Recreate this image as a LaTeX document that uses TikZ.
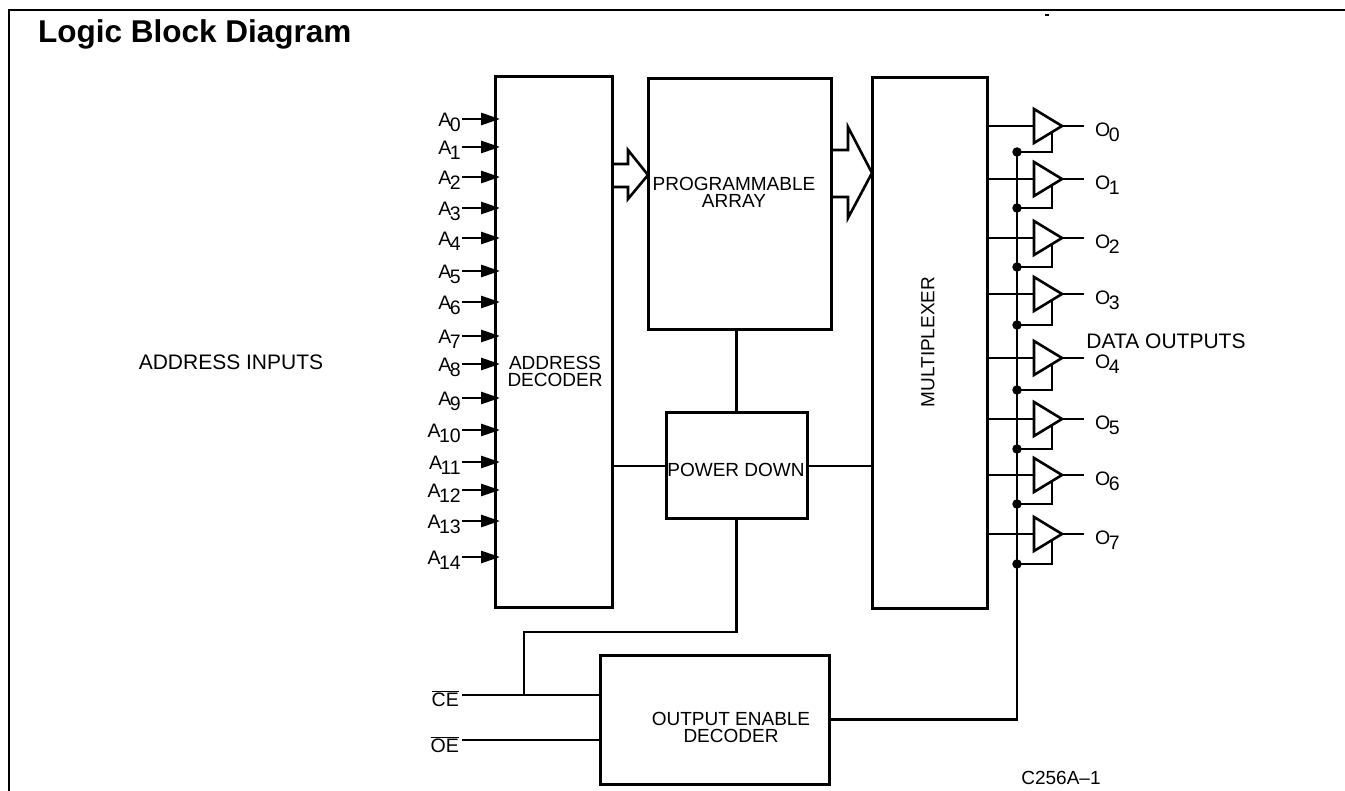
\documentclass[tikz,border=0pt]{standalone}
\usepackage{fontspec}
\setmainfont{Liberation Sans}
\usetikzlibrary{arrows.meta}
\newcommand{\subl}[2]{#1\kern-1.5pt\raisebox{-5pt}{#2}}
\begin{document}
\begin{tikzpicture}[x=1pt,y=-1pt,
  blk/.style={draw, line width=3pt, inner sep=0, outer sep=0},
  wire/.style={line width=2.6pt},
  txt/.style={inner sep=0, font=\fontsize{19}{17}\selectfont, align=center},
  btxt/.style={inner sep=0, font=\fontsize{21}{17}\selectfont, align=center},
  lbl/.style={inner sep=0, font=\fontsize{19.5}{19.5}\selectfont},
  inarr/.style={line width=2.6pt, -{Triangle[length=19pt,width=12pt]}},
  dotc/.style={circle, fill, inner sep=0, minimum size=9.5pt}
]
\useasboundingbox (0,0) rectangle (1345,791);
% frame
\draw[line width=2.4pt] (9,791) -- (9,10) -- (1345,10);
\draw[line width=1.5pt] (1045,15) -- (1049,15);
% title
\node[anchor=base west, inner sep=0, font=\fontsize{31.5}{31.5}\selectfont\bfseries] (title) at (38,43) {Logic Block Diagram};

% blocks
\node[blk, minimum width=117pt, minimum height=530pt] (ad) at (553.5,342) {};
\node[blk, minimum width=183pt, minimum height=251pt] (pa) at (739.5,204.5) {};
\node[blk, minimum width=115pt, minimum height=530pt] (mux) at (929.5,343) {};
\node[blk, minimum width=141pt, minimum height=106pt] (pd) at (736.5,466) {};
\node[blk, minimum width=229pt, minimum height=129pt] (oed) at (714.5,719.5) {};

% block texts
\node[txt] (tad) at (555,371) {ADDRESS\\DECODER};
\node[txt] (tpa) at (734,192) {PROGRAMMABLE\\ARRAY};
\node[txt] (tpd) at (736,470) {POWER DOWN};
\node[txt, rotate=90] (tmux) at (928,342) {MULTIPLEXER};
\node[txt] (toed) at (731,727) {OUTPUT ENABLE\\DECODER};
\node[btxt] (tai) at (231,362) {ADDRESS INPUTS};
\node[btxt] (tdo) at (1166,341) {DATA OUTPUTS};
\node[txt] (tcode) at (1061,778) {C256A–1};

% address inputs
\foreach \i/\y in {0/119,1/147,2/177,3/208,4/238,5/271,6/302,7/336,8/364,9/398,10/430,11/462,12/490,13/521,14/557} {
  \coordinate (in\i) at (462,\y);
  \node[lbl, anchor=east] (la\i) at (461,\y+3) {\subl{A}{\i}};
  \draw[inarr] (in\i) -- ([xshift=5pt]ad.west |- in\i);
}

% wide arrows
\draw[wire, line join=miter] (ad.east |- 0,164) -- (628,164) -- (628,150) -- (pa.west |- 0,175) -- (628,199) -- (628,187) -- (ad.east |- 0,187);
\draw[wire, line join=miter] (pa.east |- 0,150) -- (848,150) -- (848,127) -- (mux.west |- 0,173) -- (848,218) -- (848,197) -- (pa.east |- 0,197);

% power down connections
\draw[wire] (pd.north) -- (pd.north |- pa.south);
\draw[wire] (ad.east |- pd.west) -- (pd.west);
\draw[wire] (pd.east) -- (mux.west |- pd.east);
\coordinate (cejn) at (524,695);
\draw[wire] (pd.south) -- (pd.south |- 0,632) -| (cejn);

% CE / OE
\coordinate (ce) at (462,695);
\coordinate (oe) at (462,740);
\draw[wire] (ce) -- (oed.west |- ce);
\draw[wire] (oe) -- (oed.west |- oe);
\node[lbl, anchor=east] (lce) at (459,699) {$\overline{\mbox{CE}}$};
\node[lbl, anchor=east] (loe) at (459,745) {$\overline{\mbox{OE}}$};

% output buffers
\foreach \i/\c/\d in {0/126/152,1/179/208,2/238/267,3/294/325,4/358/390,5/419/449,6/475/504,7/534/564} {
  \coordinate (b\i) at (1034,\c);
  \draw[wire] (mux.east |- b\i) -- (b\i);
  \draw[wire, line join=miter] (b\i) ++(0,-17) -- ++(0,34) -- ++(28,-17) -- cycle;
  \draw[wire] ([xshift=28pt]b\i) -- ++(22,0);
  \node[lbl, anchor=west] (o\i) at (1095,\c+6) {\subl{O}{\i}};
  \node[dotc] (d\i) at (1017,\d) {};
  \draw[wire] ([shift={(18,6)}]b\i) |- (d\i.center);
}
\draw[wire] (d0.center) -- (d0.center |- oed.east) -- (oed.east);
\end{tikzpicture}
\end{document}
